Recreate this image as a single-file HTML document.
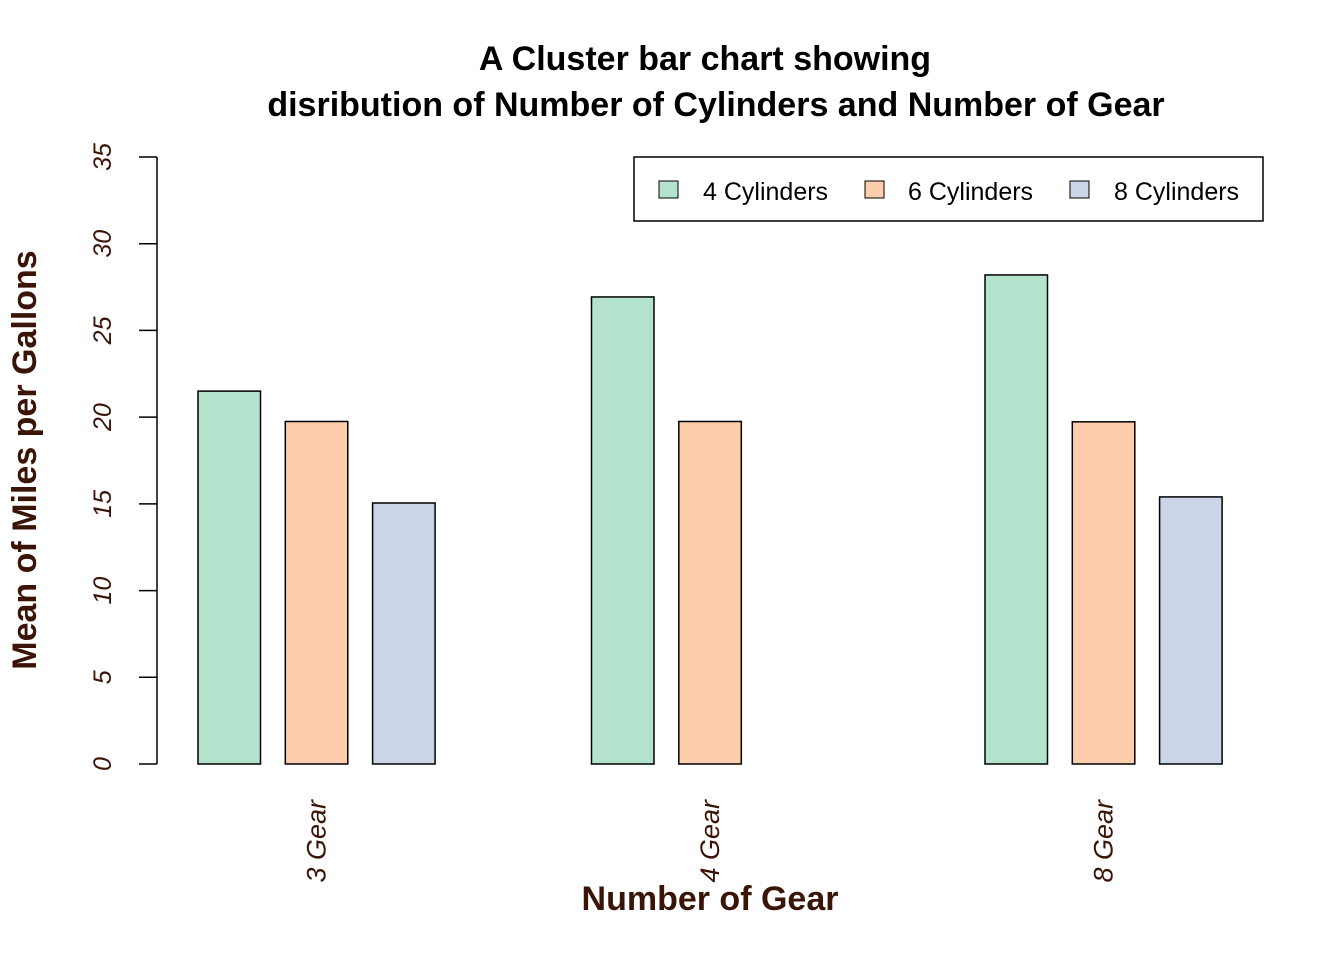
<!DOCTYPE html>
<html><head><meta charset="utf-8"><style>body{margin:0;background:#fff}svg{display:block;font-family:"Liberation Sans",sans-serif}</style></head>
<body>
<svg id="chart" width="1344" height="960" viewBox="0 0 1344 960">
<text x="705" y="70" font-size="34" font-weight="bold" text-anchor="middle">A Cluster bar chart showing</text>
<text x="716" y="116" font-size="34" font-weight="bold" text-anchor="middle">disribution of Number of Cylinders and Number of Gear</text>
<text transform="translate(36,460) rotate(-90)" font-size="34" font-weight="bold" fill="#3b1408" text-anchor="middle">Mean of Miles per Gallons</text>
<text x="710" y="910" font-size="34" font-weight="bold" fill="#3b1408" text-anchor="middle">Number of Gear</text>
<g id="axis"></g><g id="bars"></g><g id="xlabels"></g>
<g>
<rect x="634" y="157" width="629" height="64" fill="none" stroke="#000" stroke-width="1.5"/>
<rect x="659" y="181" width="19" height="17" fill="#b3e2cd" stroke="#000"/>
<text x="703" y="200" font-size="25">4 Cylinders</text>
<rect x="865" y="181" width="19" height="17" fill="#fdcdac" stroke="#000"/>
<text x="908" y="200" font-size="25">6 Cylinders</text>
<rect x="1070" y="181" width="19" height="17" fill="#cbd5e8" stroke="#000"/>
<text x="1114" y="200" font-size="25">8 Cylinders</text>
</g>
</svg>
<script>
const categories=["3 Gear","4 Gear","8 Gear"];
const cyl4=[21.5,26.93,28.2];
const cyl6=[19.75,19.75,19.73];
const cyl8=[15.05,0,15.4];
const yTicks=[0,5,10,15,20,25,30,35];
const colors=["#b3e2cd","#fdcdac","#cbd5e8"];
const NS="http://www.w3.org/2000/svg";
const y=v=>764-v*(607/35);
const barX=(g,s)=>198+g*393.5+s*87.3;
function mk(t,a,p){const e=document.createElementNS(NS,t);for(const k in a)e.setAttribute(k,a[k]);p.appendChild(e);return e;}
const ax=document.getElementById('axis');
mk('line',{x1:157,x2:157,y1:y(0),y2:y(35),stroke:'#000','stroke-width':1.5},ax);
yTicks.forEach(t=>{
 mk('line',{x1:139,x2:157,y1:y(t),y2:y(t),stroke:'#000','stroke-width':1.5},ax);
 const tx=mk('text',{transform:`translate(111,${y(t)}) rotate(-90)`,'font-size':25,'font-style':'italic','text-anchor':'middle',fill:'#3b1408'},ax);
 
 
 tx.textContent=t;
});
const bg=document.getElementById('bars');
[cyl4,cyl6,cyl8].forEach((ser,s)=>ser.forEach((v,g)=>{
 const r=mk('rect',{x:barX(g,s),y:y(v),width:62.5,height:y(0)-y(v),fill:colors[s],stroke:'#000','stroke-width':1.5},bg);
 
 
}));
const xl=document.getElementById('xlabels');
categories.forEach((c,g)=>{
 const cx=barX(g,1)+31+9;
 const tx=mk('text',{transform:`translate(${cx},800) rotate(-90)`,'font-size':27,'font-style':'italic','text-anchor':'end',fill:'#3b1408'},xl);
 
 
 tx.textContent=c;
});
</script>
</body></html>
